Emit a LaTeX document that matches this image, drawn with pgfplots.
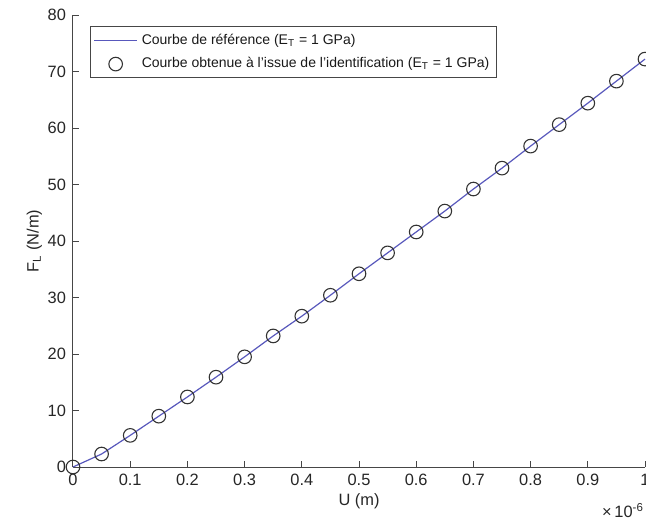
\documentclass[border=0pt]{standalone}
\usepackage{pgfplots}
\pgfplotsset{compat=1.18}
\usepackage{fontspec}
\setmainfont{Liberation Sans}
\definecolor{linecol}{RGB}{88,88,188}
\definecolor{axcol}{RGB}{70,70,70}
\newcommand{\fs}{\fontsize{8.2}{10}\selectfont}
\newcommand{\lfs}{\fontsize{7.0}{8.4}\selectfont}
\pgfplotsset{
  lineleg/.style={legend image code/.code={\draw[##1,draw=linecol] (0pt,0pt) -- (21.5pt,0pt);}},
  markleg/.style={legend image code/.code={\draw[##1] plot coordinates {(10.75pt,0pt)};}},
}
\begin{document}
\begin{tikzpicture}
\begin{axis}[
  width=286pt, height=226pt, scale only axis,
  xmin=0, xmax=1, ymin=0, ymax=80,
  axis x line=bottom, axis y line=left,
  axis line style={axcol, line width=0.5pt, -},
  xtick={0,0.1,...,1}, ytick={0,10,...,80},
  xticklabels={0,0.1,0.2,0.3,0.4,0.5,0.6,0.7,0.8,0.9,1},
  tick align=inside, major tick length=3pt,
  tick style={axcol, line width=0.5pt},
  /pgf/number format/assume math mode=true,
  tick label style={font=\fs, text=black!85},
  xlabel={U (m)}, ylabel={F\textsubscript{L} (N/m)},
  label style={font=\fs, text=black!85},
  xlabel style={yshift=3pt},
  ylabel style={yshift=-4pt},
  legend style={font=\lfs, at={(rel axis cs:0.03,0.975)}, anchor=north west,
    draw=axcol, line width=0.4pt, inner sep=1.5pt, row sep=1.2pt,
    legend cell align=left, text=black!90},
  clip=false,
]
\addplot[linecol, line width=0.6pt, lineleg]
  coordinates {
(0,0) (0.05,2.3) (0.1,5.6) (0.15,9.0) (0.2,12.4) (0.25,15.9) (0.3,19.5)
(0.35,23.2) (0.4,26.7) (0.45,30.4) (0.5,34.2) (0.55,37.9) (0.6,41.6)
(0.65,45.3) (0.7,49.2) (0.75,52.9) (0.8,56.8) (0.85,60.6) (0.9,64.4)
(0.95,68.3) (1.0,72.2)};
\addlegendentry{Courbe de référence (E\textsubscript{T} = 1 GPa)}
\addplot[only marks, mark=o, mark size=3.4pt, black!80, mark options={line width=0.55pt}, markleg]
  coordinates {
(0,0) (0.05,2.3) (0.1,5.6) (0.15,9.0) (0.2,12.4) (0.25,15.9) (0.3,19.5)
(0.35,23.2) (0.4,26.7) (0.45,30.4) (0.5,34.2) (0.55,37.9) (0.6,41.6)
(0.65,45.3) (0.7,49.2) (0.75,52.9) (0.8,56.8) (0.85,60.6) (0.9,64.4)
(0.95,68.3) (1.0,72.2)};
\addlegendentry{Courbe obtenue à l’issue de l’identification (E\textsubscript{T} = 1 GPa)}
\node[font=\fs, text=black!85, anchor=base east] at ([yshift=-25pt,xshift=3pt]rel axis cs:1.0,0) {×\,10\textsuperscript{-6}};
\end{axis}
\pgfresetboundingbox
\path[use as bounding box] (-36.5pt,-29.5pt) rectangle (286.5pt,233.5pt);
\end{tikzpicture}
\end{document}
